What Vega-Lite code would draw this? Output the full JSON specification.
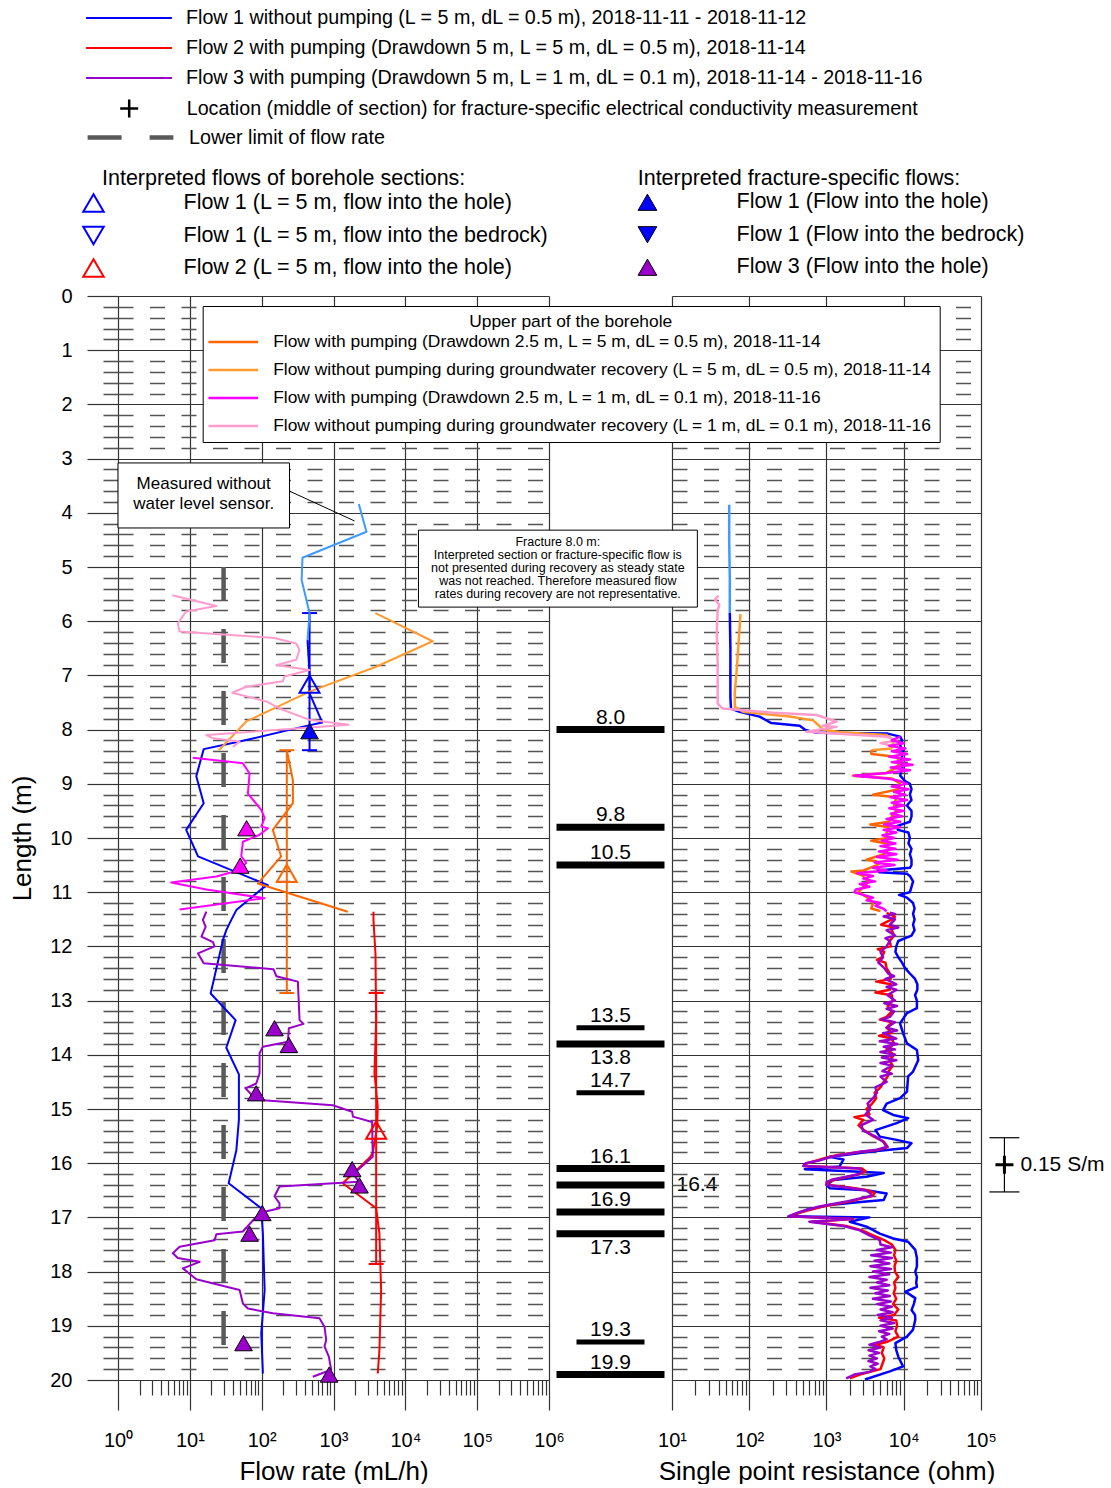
{
"$schema": "https://vega.github.io/schema/vega-lite/v6.json",
"background": "white",
"padding": {"left": 9, "top": 6, "right": 0, "bottom": 0},
"spacing": 0,
"bounds": "flush",
"datasets": {
"series": [
{"id":"F1","name":"Flow 1 without pumping (L = 5 m, dL = 0.5 m), 2018-11-11 - 2018-11-12"},
{"id":"F2","name":"Flow 2 with pumping (Drawdown 5 m, L = 5 m, dL = 0.5 m), 2018-11-14"},
{"id":"F3","name":"Flow 3 with pumping (Drawdown 5 m, L = 1 m, dL = 0.1 m), 2018-11-14 - 2018-11-16"},
{"id":"LOC","name":"Location (middle of section) for fracture-specific electrical conductivity measurement"},
{"id":"LL","name":"Lower limit of flow rate"},
{"id":"F1b","name":"Flow 1 measured without water level sensor"},
{"id":"U1","name":"Flow with pumping (Drawdown 2.5 m, L = 5 m, dL = 0.5 m), 2018-11-14"},
{"id":"U2","name":"Flow without pumping during groundwater recovery (L = 5 m, dL = 0.5 m), 2018-11-14"},
{"id":"U3","name":"Flow with pumping (Drawdown 2.5 m, L = 1 m, dL = 0.1 m), 2018-11-16"},
{"id":"U4","name":"Flow without pumping during groundwater recovery (L = 1 m, dL = 0.1 m), 2018-11-16"}
],
"flow": [
{"s":"F1b","d":3.84,"v":2250},{"s":"F1b","d":4.35,"v":2880},{"s":"F1b","d":4.83,"v":370},{"s":"F1b","d":5.24,"v":360},{"s":"F1b","d":5.85,"v":464},{"s":"F1b","d":6.35,"v":435},
{"s":"F1","d":6.35,"v":435},{"s":"F1","d":6.96,"v":464},{"s":"F1","d":7.33,"v":464},{"s":"F1","d":7.82,"v":674},{"s":"F1","d":7.87,"v":697},{"s":"F1","d":7.95,"v":367},{"s":"F1","d":8.22,"v":49.3},{"s":"F1","d":8.36,"v":15.6},{"s":"F1","d":8.86,"v":12.3},{"s":"F1","d":9.36,"v":15.6},{"s":"F1","d":9.85,"v":8.9},{"s":"F1","d":10.34,"v":13},{"s":"F1","d":10.87,"v":122},{"s":"F1","d":10.93,"v":102},{"s":"F1","d":11.33,"v":44.4},{"s":"F1","d":11.51,"v":37.8},{"s":"F1","d":11.7,"v":32.2},{"s":"F1","d":11.88,"v":28.9},{"s":"F1","d":12.87,"v":19.5},{"s":"F1","d":13.36,"v":43.4},{"s":"F1","d":13.87,"v":32.2},{"s":"F1","d":14.36,"v":48.2},{"s":"F1","d":15.2,"v":48.2},{"s":"F1","d":15.76,"v":44.4},{"s":"F1","d":16.37,"v":34.7},{"s":"F1","d":16.83,"v":98.7},{"s":"F1","d":17.3,"v":104},{"s":"F1","d":18.34,"v":110},{"s":"F1","d":19.14,"v":98.7},{"s":"F1","d":19.88,"v":104},
{"s":"F2","d":11.36,"v":3600},{"s":"F2","d":11.51,"v":3600},{"s":"F2","d":12.13,"v":3840},{"s":"F2","d":13.36,"v":3925},{"s":"F2","d":14.34,"v":3717},{"s":"F2","d":14.95,"v":4130},{"s":"F2","d":15.32,"v":4060},{"s":"F2","d":15.81,"v":3520},{"s":"F2","d":15.9,"v":3170},{"s":"F2","d":16.37,"v":1347},{"s":"F2","d":16.83,"v":3925},{"s":"F2","d":17.3,"v":4360},{"s":"F2","d":18.34,"v":4600},{"s":"F2","d":19.45,"v":4360},{"s":"F2","d":19.88,"v":4130},
{"s":"F3","d":11.36,"v":17},{"s":"F3","d":11.51,"v":15.2},{"s":"F3","d":11.64,"v":16.6},{"s":"F3","d":11.82,"v":14.5},{"s":"F3","d":11.92,"v":21},{"s":"F3","d":12.0,"v":22.1},{"s":"F3","d":12.13,"v":13},{"s":"F3","d":12.31,"v":15.6},{"s":"F3","d":12.42,"v":146},{"s":"F3","d":12.55,"v":160},{"s":"F3","d":12.65,"v":319},{"s":"F3","d":13.36,"v":337},{"s":"F3","d":13.43,"v":383},{"s":"F3","d":13.51,"v":239},{"s":"F3","d":13.76,"v":232},{"s":"F3","d":13.85,"v":104},{"s":"F3","d":13.97,"v":93.5},{"s":"F3","d":14.34,"v":93.5},{"s":"F3","d":14.53,"v":84},{"s":"F3","d":14.62,"v":59.7},{"s":"F3","d":14.83,"v":84},{"s":"F3","d":14.93,"v":977},{"s":"F3","d":15.05,"v":1820},{"s":"F3","d":15.14,"v":1862},{"s":"F3","d":15.24,"v":3450},{"s":"F3","d":15.88,"v":3520},{"s":"F3","d":16.1,"v":2300},{"s":"F3","d":16.19,"v":1862},{"s":"F3","d":16.34,"v":2250},{"s":"F3","d":16.43,"v":177},{"s":"F3","d":16.61,"v":151},{"s":"F3","d":16.74,"v":177},{"s":"F3","d":16.83,"v":177},{"s":"F3","d":16.92,"v":93.5},{"s":"F3","d":17.26,"v":54.8},{"s":"F3","d":17.31,"v":23.4},{"s":"F3","d":17.42,"v":22.1},{"s":"F3","d":17.54,"v":7.2},{"s":"F3","d":17.66,"v":5.8},{"s":"F3","d":17.75,"v":6.8},{"s":"F3","d":17.82,"v":13.7},{"s":"F3","d":17.94,"v":8.0},{"s":"F3","d":18.14,"v":12.3},{"s":"F3","d":18.34,"v":49.3},{"s":"F3","d":18.59,"v":54.8},{"s":"F3","d":18.68,"v":64.3},{"s":"F3","d":18.77,"v":143},{"s":"F3","d":18.86,"v":639},{"s":"F3","d":19.02,"v":750},{"s":"F3","d":19.26,"v":791},{"s":"F3","d":19.38,"v":750},{"s":"F3","d":19.57,"v":861},{"s":"F3","d":19.81,"v":929},{"s":"F3","d":19.94,"v":515},
{"s":"U2","d":5.85,"v":3840},{"s":"U2","d":6.37,"v":24000},{"s":"U2","d":6.84,"v":3925},{"s":"U2","d":7.3,"v":464},{"s":"U2","d":7.85,"v":61},{"s":"U2","d":8.38,"v":25.4},
{"s":"U1","d":8.38,"v":224},{"s":"U1","d":8.93,"v":272},{"s":"U1","d":9.36,"v":272},{"s":"U1","d":9.85,"v":143},{"s":"U1","d":10.34,"v":187},{"s":"U1","d":10.84,"v":88.5},{"s":"U1","d":11.36,"v":1580},
{"s":"U4","d":5.52,"v":5.7},{"s":"U4","d":5.72,"v":23.4},{"s":"U4","d":5.82,"v":8.9},{"s":"U4","d":6.04,"v":6.8},{"s":"U4","d":6.19,"v":7.2},{"s":"U4","d":6.31,"v":151},{"s":"U4","d":6.41,"v":303},{"s":"U4","d":6.53,"v":337},{"s":"U4","d":6.71,"v":303},{"s":"U4","d":6.81,"v":160},{"s":"U4","d":6.9,"v":464},{"s":"U4","d":7.02,"v":208},{"s":"U4","d":7.11,"v":197},{"s":"U4","d":7.21,"v":61},{"s":"U4","d":7.32,"v":39},{"s":"U4","d":7.48,"v":116},{"s":"U4","d":7.61,"v":177},{"s":"U4","d":7.82,"v":464},{"s":"U4","d":7.91,"v":1633},{"s":"U4","d":8.1,"v":17},{"s":"U4","d":8.16,"v":21},{"s":"U4","d":8.22,"v":49.3},{"s":"U4","d":8.32,"v":39.8},
{"s":"U3","d":8.52,"v":11},{"s":"U3","d":8.62,"v":54.8},{"s":"U3","d":8.81,"v":67.9},{"s":"U3","d":9.18,"v":64.3},{"s":"U3","d":9.48,"v":98.7},{"s":"U3","d":9.63,"v":110},{"s":"U3","d":9.79,"v":98.7},{"s":"U3","d":9.82,"v":122},{"s":"U3","d":9.94,"v":93.5},{"s":"U3","d":10.07,"v":54.8},{"s":"U3","d":10.34,"v":52},{"s":"U3","d":10.46,"v":61},{"s":"U3","d":10.59,"v":49.3},{"s":"U3","d":10.71,"v":23.4},{"s":"U3","d":10.82,"v":5.5},{"s":"U3","d":10.95,"v":17},{"s":"U3","d":11.11,"v":110},{"s":"U3","d":11.32,"v":7.2}
],
"limit": [{"s":"LL","v":29.5,"d":5.0,"d2":19.45}],
"bars": [{"s":"F1","v":464,"d":5.85,"d2":8.38},{"s":"U1","v":224,"d":8.38,"d2":12.86},{"s":"F2","v":3925,"d":12.86,"d2":17.86}],
"caps": [{"s":"F1","v":464,"d":5.85},{"s":"F1","v":464,"d":8.38},{"s":"U1","v":224,"d":8.38},{"s":"U1","v":224,"d":12.86},{"s":"F2","v":3925,"d":12.86},{"s":"F2","v":3925,"d":17.86}],
"sect": [
{"k":"Flow 1 (L = 5 m, flow into the hole)","v":464,"d":7.16},
{"k":"Flow 2 (L = 5 m, flow into the hole)","v":3925,"d":15.39},
{"k":"Upper part (L = 5 m, flow into the hole)","v":224,"d":10.65}
],
"frac": [
{"k":"Flow 1 (Flow into the hole)","v":464,"d":8.03},
{"k":"Flow 3 (Flow into the hole)","v":151,"d":13.51},
{"k":"Flow 3 (Flow into the hole)","v":239,"d":13.82},
{"k":"Flow 3 (Flow into the hole)","v":84,"d":14.71},
{"k":"Flow 3 (Flow into the hole)","v":1820,"d":16.11},
{"k":"Flow 3 (Flow into the hole)","v":2300,"d":16.41},
{"k":"Flow 3 (Flow into the hole)","v":102,"d":16.92},
{"k":"Flow 3 (Flow into the hole)","v":67.9,"d":17.3},
{"k":"Flow 3 (Flow into the hole)","v":55.9,"d":19.32},
{"k":"Flow 3 (Flow into the hole)","v":871,"d":19.9},
{"k":"Upper part (Flow into the hole)","v":61.6,"d":9.82},
{"k":"Upper part (Flow into the hole)","v":50.3,"d":10.51}
],
"note1box": [{"v":1,"v2":244,"d":3.08,"d2":4.28}],
"note1line": [{"v":244,"v2":1960,"d":3.6,"d2":4.15}],
"note1text": [{"v":15.6,"d":3.33,"text":"Measured without\nwater level sensor."}],
"fract": [
{"d":8.0,"type":"main"},{"d":9.8,"type":"main"},{"d":10.5,"type":"main"},{"d":13.5,"type":"minor"},{"d":13.8,"type":"main"},{"d":14.7,"type":"minor"},{"d":16.1,"type":"main"},{"d":16.4,"type":"main"},{"d":16.9,"type":"main"},{"d":17.3,"type":"main"},{"d":19.3,"type":"minor"},{"d":19.9,"type":"main"}
],
"note2box": [{"v":0.00522,"v2":21.3,"d":4.32,"d2":5.74}],
"note2text": [{"v":0.333,"d":4.42,"text":"Fracture 8.0 m:\nInterpreted section or fracture-specific flow is\nnot presented during recovery as steady state\nwas not reached. Therefore measured flow\nrates during recovery are not representative."}],
"sbar": [{"v":201000,"d":15.53,"d2":16.53}],
"sbarcaps": [{"v":201000,"d":15.53},{"v":201000,"d":16.53}],
"sbarmid": [{"s":"LOC","v":201000,"d":16.03,"text":"0.15 S/m"}],
"spr": [
{"s":"F1b","d":3.85,"v":55},{"s":"F1b","d":4.5,"v":55},{"s":"F1b","d":5.2,"v":56},{"s":"F1b","d":5.85,"v":56},
{"s":"F1","d":5.85,"v":56},{"s":"F1","d":6.5,"v":57},{"s":"F1","d":7.0,"v":57},{"s":"F1","d":7.4,"v":57},{"s":"F1","d":7.61,"v":58},{"s":"F1","d":7.67,"v":75},{"s":"F1","d":7.76,"v":136},{"s":"F1","d":7.88,"v":193},{"s":"F1","d":7.93,"v":450},{"s":"F1","d":8.0,"v":524},{"s":"F1","d":8.06,"v":741},{"s":"F1","d":8.07,"v":6000},{"s":"F1","d":8.13,"v":9000},{"s":"F1","d":8.2,"v":9500},{"s":"F1","d":8.3,"v":9000},{"s":"F1","d":8.4,"v":9800},{"s":"F1","d":8.5,"v":9500},{"s":"F1","d":8.6,"v":9200},{"s":"F1","d":8.7,"v":9600},{"s":"F1","d":8.85,"v":9000},{"s":"F1","d":8.95,"v":10400},{"s":"F1","d":9.0,"v":12000},{"s":"F1","d":9.1,"v":12600},{"s":"F1","d":9.2,"v":12000},{"s":"F1","d":9.3,"v":12600},{"s":"F1","d":9.4,"v":11000},{"s":"F1","d":9.5,"v":12600},{"s":"F1","d":9.6,"v":12600},{"s":"F1","d":9.7,"v":12000},{"s":"F1","d":9.78,"v":8100},{"s":"F1","d":9.85,"v":8400},{"s":"F1","d":9.9,"v":11500},{"s":"F1","d":10.0,"v":12000},{"s":"F1","d":10.1,"v":11500},{"s":"F1","d":10.2,"v":12600},{"s":"F1","d":10.3,"v":12000},{"s":"F1","d":10.4,"v":12600},{"s":"F1","d":10.5,"v":12600},{"s":"F1","d":10.55,"v":12000},{"s":"F1","d":10.6,"v":4600},{"s":"F1","d":10.63,"v":4800},{"s":"F1","d":10.66,"v":11000},{"s":"F1","d":10.7,"v":12000},{"s":"F1","d":10.8,"v":13200},{"s":"F1","d":10.9,"v":12600},{"s":"F1","d":11.0,"v":12000},{"s":"F1","d":11.05,"v":8700},{"s":"F1","d":11.1,"v":11000},{"s":"F1","d":11.2,"v":13200},{"s":"F1","d":11.3,"v":13800},{"s":"F1","d":11.4,"v":13200},{"s":"F1","d":11.5,"v":13800},{"s":"F1","d":11.6,"v":13200},{"s":"F1","d":11.7,"v":13800},{"s":"F1","d":11.8,"v":12600},{"s":"F1","d":11.9,"v":8500},{"s":"F1","d":12.0,"v":8000},{"s":"F1","d":12.1,"v":7800},{"s":"F1","d":12.2,"v":8500},{"s":"F1","d":12.3,"v":9500},{"s":"F1","d":12.4,"v":10400},{"s":"F1","d":12.5,"v":12000},{"s":"F1","d":12.6,"v":14000},{"s":"F1","d":12.7,"v":15000},{"s":"F1","d":12.8,"v":15000},{"s":"F1","d":12.9,"v":14000},{"s":"F1","d":13.0,"v":14800},{"s":"F1","d":13.14,"v":14800},{"s":"F1","d":13.23,"v":11000},{"s":"F1","d":13.42,"v":8950},{"s":"F1","d":13.6,"v":9800},{"s":"F1","d":13.79,"v":11000},{"s":"F1","d":13.91,"v":14800},{"s":"F1","d":14.1,"v":15400},{"s":"F1","d":14.31,"v":13200},{"s":"F1","d":14.4,"v":11400},{"s":"F1","d":14.68,"v":11000},{"s":"F1","d":14.8,"v":8950},{"s":"F1","d":14.9,"v":6000},{"s":"F1","d":15.02,"v":5400},{"s":"F1","d":15.11,"v":7300},{"s":"F1","d":15.17,"v":11400},{"s":"F1","d":15.26,"v":8100},{"s":"F1","d":15.39,"v":4300},{"s":"F1","d":15.51,"v":4900},{"s":"F1","d":15.57,"v":8100},{"s":"F1","d":15.63,"v":12600},{"s":"F1","d":15.72,"v":11000},{"s":"F1","d":15.79,"v":3600},{"s":"F1","d":15.85,"v":1730},{"s":"F1","d":15.88,"v":1100},{"s":"F1","d":15.93,"v":1660},{"s":"F1","d":16.06,"v":1480},{"s":"F1","d":16.1,"v":600},{"s":"F1","d":16.11,"v":524},{"s":"F1","d":16.16,"v":2700},{"s":"F1","d":16.18,"v":5500},{"s":"F1","d":16.25,"v":3300},{"s":"F1","d":16.31,"v":1230},{"s":"F1","d":16.4,"v":1000},{"s":"F1","d":16.46,"v":1100},{"s":"F1","d":16.5,"v":3300},{"s":"F1","d":16.56,"v":6000},{"s":"F1","d":16.68,"v":5500},{"s":"F1","d":16.71,"v":3000},{"s":"F1","d":16.77,"v":1100},{"s":"F1","d":16.86,"v":550},{"s":"F1","d":16.98,"v":330},{"s":"F1","d":17.0,"v":3600},{"s":"F1","d":17.08,"v":2000},{"s":"F1","d":17.17,"v":3300},{"s":"F1","d":17.3,"v":4900},{"s":"F1","d":17.39,"v":7300},{"s":"F1","d":17.45,"v":11400},{"s":"F1","d":17.6,"v":14100},{"s":"F1","d":17.75,"v":14800},{"s":"F1","d":17.91,"v":14800},{"s":"F1","d":18.0,"v":14100},{"s":"F1","d":18.1,"v":14800},{"s":"F1","d":18.2,"v":14500},{"s":"F1","d":18.28,"v":14800},{"s":"F1","d":18.37,"v":10500},{"s":"F1","d":18.49,"v":14100},{"s":"F1","d":18.6,"v":13500},{"s":"F1","d":18.71,"v":12600},{"s":"F1","d":18.8,"v":14000},{"s":"F1","d":18.89,"v":14100},{"s":"F1","d":19.07,"v":13200},{"s":"F1","d":19.2,"v":11000},{"s":"F1","d":19.32,"v":7800},{"s":"F1","d":19.45,"v":8000},{"s":"F1","d":19.57,"v":8500},{"s":"F1","d":19.75,"v":9800},{"s":"F1","d":19.84,"v":6600},{"s":"F1","d":19.99,"v":3150},
{"s":"F2","d":11.38,"v":6000},{"s":"F2","d":11.45,"v":7700},{"s":"F2","d":11.5,"v":7000},{"s":"F2","d":11.6,"v":5100},{"s":"F2","d":11.65,"v":7500},{"s":"F2","d":11.7,"v":7000},{"s":"F2","d":11.8,"v":7500},{"s":"F2","d":11.9,"v":6600},{"s":"F2","d":12.0,"v":6800},{"s":"F2","d":12.05,"v":4600},{"s":"F2","d":12.1,"v":5600},{"s":"F2","d":12.2,"v":5200},{"s":"F2","d":12.25,"v":4500},{"s":"F2","d":12.3,"v":5800},{"s":"F2","d":12.4,"v":6000},{"s":"F2","d":12.5,"v":6600},{"s":"F2","d":12.6,"v":6800},{"s":"F2","d":12.65,"v":4400},{"s":"F2","d":12.7,"v":6800},{"s":"F2","d":12.8,"v":6600},{"s":"F2","d":12.85,"v":4300},{"s":"F2","d":12.9,"v":7000},{"s":"F2","d":13.0,"v":7200},{"s":"F2","d":13.1,"v":6200},{"s":"F2","d":13.2,"v":7000},{"s":"F2","d":13.3,"v":6000},{"s":"F2","d":13.35,"v":4900},{"s":"F2","d":13.4,"v":7000},{"s":"F2","d":13.5,"v":6000},{"s":"F2","d":13.6,"v":7000},{"s":"F2","d":13.65,"v":4800},{"s":"F2","d":13.7,"v":7000},{"s":"F2","d":13.8,"v":7500},{"s":"F2","d":13.9,"v":6000},{"s":"F2","d":14.0,"v":7500},{"s":"F2","d":14.1,"v":6500},{"s":"F2","d":14.2,"v":7200},{"s":"F2","d":14.3,"v":6400},{"s":"F2","d":14.4,"v":6200},{"s":"F2","d":14.5,"v":5500},{"s":"F2","d":14.6,"v":5000},{"s":"F2","d":14.7,"v":4200},{"s":"F2","d":14.8,"v":4400},{"s":"F2","d":14.9,"v":3900},{"s":"F2","d":15.0,"v":3300},{"s":"F2","d":15.1,"v":3600},{"s":"F2","d":15.15,"v":2300},{"s":"F2","d":15.2,"v":3000},{"s":"F2","d":15.3,"v":2600},{"s":"F2","d":15.4,"v":3100},{"s":"F2","d":15.5,"v":4000},{"s":"F2","d":15.6,"v":5500},{"s":"F2","d":15.7,"v":6200},{"s":"F2","d":15.75,"v":4800},{"s":"F2","d":15.8,"v":2500},{"s":"F2","d":15.85,"v":1400},{"s":"F2","d":15.9,"v":1000},{"s":"F2","d":16.0,"v":560},{"s":"F2","d":16.05,"v":520},{"s":"F2","d":16.1,"v":2900},{"s":"F2","d":16.15,"v":3200},{"s":"F2","d":16.2,"v":2700},{"s":"F2","d":16.25,"v":1900},{"s":"F2","d":16.3,"v":1300},{"s":"F2","d":16.35,"v":1050},{"s":"F2","d":16.4,"v":1050},{"s":"F2","d":16.45,"v":2000},{"s":"F2","d":16.5,"v":3400},{"s":"F2","d":16.55,"v":4200},{"s":"F2","d":16.6,"v":4000},{"s":"F2","d":16.7,"v":2100},{"s":"F2","d":16.8,"v":900},{"s":"F2","d":16.9,"v":480},{"s":"F2","d":16.98,"v":330},{"s":"F2","d":17.03,"v":2200},{"s":"F2","d":17.08,"v":650},{"s":"F2","d":17.16,"v":1800},{"s":"F2","d":17.24,"v":2900},{"s":"F2","d":17.33,"v":4000},{"s":"F2","d":17.42,"v":5600},{"s":"F2","d":17.5,"v":7000},{"s":"F2","d":17.6,"v":7800},{"s":"F2","d":17.7,"v":7500},{"s":"F2","d":17.8,"v":8000},{"s":"F2","d":17.9,"v":7600},{"s":"F2","d":18.0,"v":7700},{"s":"F2","d":18.1,"v":8500},{"s":"F2","d":18.2,"v":7500},{"s":"F2","d":18.3,"v":7800},{"s":"F2","d":18.4,"v":7400},{"s":"F2","d":18.5,"v":8000},{"s":"F2","d":18.6,"v":7300},{"s":"F2","d":18.7,"v":8500},{"s":"F2","d":18.8,"v":7500},{"s":"F2","d":18.85,"v":4800},{"s":"F2","d":18.9,"v":8000},{"s":"F2","d":19.0,"v":8200},{"s":"F2","d":19.1,"v":7800},{"s":"F2","d":19.2,"v":8500},{"s":"F2","d":19.3,"v":6000},{"s":"F2","d":19.35,"v":4300},{"s":"F2","d":19.4,"v":5500},{"s":"F2","d":19.5,"v":5200},{"s":"F2","d":19.6,"v":5600},{"s":"F2","d":19.7,"v":5300},{"s":"F2","d":19.8,"v":5000},{"s":"F2","d":19.9,"v":2700},{"s":"F2","d":19.97,"v":2000},
{"s":"F3","d":11.38,"v":6600},{"s":"F3","d":11.4,"v":7700},{"s":"F3","d":11.45,"v":5500},{"s":"F3","d":11.5,"v":7700},{"s":"F3","d":11.6,"v":6600},{"s":"F3","d":11.65,"v":8500},{"s":"F3","d":11.7,"v":6000},{"s":"F3","d":11.8,"v":7700},{"s":"F3","d":11.85,"v":5800},{"s":"F3","d":11.9,"v":6600},{"s":"F3","d":12.0,"v":6000},{"s":"F3","d":12.1,"v":5000},{"s":"F3","d":12.2,"v":5400},{"s":"F3","d":12.3,"v":4700},{"s":"F3","d":12.4,"v":5600},{"s":"F3","d":12.5,"v":6300},{"s":"F3","d":12.55,"v":7500},{"s":"F3","d":12.6,"v":5800},{"s":"F3","d":12.7,"v":8000},{"s":"F3","d":12.75,"v":6000},{"s":"F3","d":12.8,"v":8000},{"s":"F3","d":12.9,"v":6200},{"s":"F3","d":13.0,"v":7700},{"s":"F3","d":13.05,"v":5600},{"s":"F3","d":13.1,"v":8200},{"s":"F3","d":13.15,"v":6000},{"s":"F3","d":13.2,"v":7500},{"s":"F3","d":13.3,"v":6600},{"s":"F3","d":13.35,"v":5200},{"s":"F3","d":13.4,"v":7700},{"s":"F3","d":13.5,"v":6000},{"s":"F3","d":13.55,"v":8200},{"s":"F3","d":13.6,"v":5400},{"s":"F3","d":13.7,"v":8000},{"s":"F3","d":13.75,"v":4900},{"s":"F3","d":13.8,"v":8200},{"s":"F3","d":13.85,"v":5500},{"s":"F3","d":13.9,"v":7700},{"s":"F3","d":13.95,"v":5000},{"s":"F3","d":14.0,"v":7700},{"s":"F3","d":14.05,"v":5200},{"s":"F3","d":14.1,"v":8000},{"s":"F3","d":14.15,"v":5000},{"s":"F3","d":14.2,"v":7000},{"s":"F3","d":14.3,"v":5300},{"s":"F3","d":14.35,"v":7000},{"s":"F3","d":14.4,"v":5000},{"s":"F3","d":14.5,"v":6000},{"s":"F3","d":14.6,"v":4300},{"s":"F3","d":14.7,"v":4500},{"s":"F3","d":14.8,"v":4000},{"s":"F3","d":14.9,"v":3400},{"s":"F3","d":15.0,"v":3700},{"s":"F3","d":15.1,"v":3200},{"s":"F3","d":15.2,"v":4000},{"s":"F3","d":15.3,"v":2800},{"s":"F3","d":15.4,"v":3000},{"s":"F3","d":15.5,"v":4200},{"s":"F3","d":15.6,"v":5400},{"s":"F3","d":15.7,"v":6000},{"s":"F3","d":15.75,"v":4500},{"s":"F3","d":15.8,"v":2400},{"s":"F3","d":15.85,"v":1500},{"s":"F3","d":15.9,"v":1050},{"s":"F3","d":15.95,"v":800},{"s":"F3","d":16.0,"v":540},{"s":"F3","d":16.05,"v":500},{"s":"F3","d":16.1,"v":2700},{"s":"F3","d":16.15,"v":2900},{"s":"F3","d":16.2,"v":2700},{"s":"F3","d":16.25,"v":1800},{"s":"F3","d":16.3,"v":1200},{"s":"F3","d":16.35,"v":1000},{"s":"F3","d":16.4,"v":1000},{"s":"F3","d":16.45,"v":1800},{"s":"F3","d":16.5,"v":3200},{"s":"F3","d":16.55,"v":3650},{"s":"F3","d":16.6,"v":3900},{"s":"F3","d":16.7,"v":1900},{"s":"F3","d":16.8,"v":810},{"s":"F3","d":16.9,"v":450},{"s":"F3","d":16.98,"v":320},{"s":"F3","d":17.03,"v":2100},{"s":"F3","d":17.08,"v":600},{"s":"F3","d":17.16,"v":1660},{"s":"F3","d":17.24,"v":2700},{"s":"F3","d":17.33,"v":3600},{"s":"F3","d":17.42,"v":4900},{"s":"F3","d":17.5,"v":5000},{"s":"F3","d":17.55,"v":7000},{"s":"F3","d":17.6,"v":4500},{"s":"F3","d":17.65,"v":6800},{"s":"F3","d":17.7,"v":3800},{"s":"F3","d":17.75,"v":7000},{"s":"F3","d":17.8,"v":4200},{"s":"F3","d":17.85,"v":6500},{"s":"F3","d":17.9,"v":3700},{"s":"F3","d":17.95,"v":6800},{"s":"F3","d":18.0,"v":4000},{"s":"F3","d":18.05,"v":6500},{"s":"F3","d":18.1,"v":3600},{"s":"F3","d":18.15,"v":6000},{"s":"F3","d":18.2,"v":4500},{"s":"F3","d":18.25,"v":6500},{"s":"F3","d":18.3,"v":3700},{"s":"F3","d":18.35,"v":6200},{"s":"F3","d":18.4,"v":4300},{"s":"F3","d":18.45,"v":6600},{"s":"F3","d":18.5,"v":4000},{"s":"F3","d":18.55,"v":6800},{"s":"F3","d":18.6,"v":4500},{"s":"F3","d":18.65,"v":7000},{"s":"F3","d":18.7,"v":5000},{"s":"F3","d":18.75,"v":7200},{"s":"F3","d":18.8,"v":4600},{"s":"F3","d":18.85,"v":7000},{"s":"F3","d":18.9,"v":5000},{"s":"F3","d":18.95,"v":7500},{"s":"F3","d":19.0,"v":5000},{"s":"F3","d":19.05,"v":7200},{"s":"F3","d":19.1,"v":4800},{"s":"F3","d":19.15,"v":6500},{"s":"F3","d":19.2,"v":5200},{"s":"F3","d":19.25,"v":6000},{"s":"F3","d":19.3,"v":4800},{"s":"F3","d":19.35,"v":3600},{"s":"F3","d":19.4,"v":5000},{"s":"F3","d":19.45,"v":3500},{"s":"F3","d":19.5,"v":4800},{"s":"F3","d":19.55,"v":3600},{"s":"F3","d":19.6,"v":4500},{"s":"F3","d":19.65,"v":3500},{"s":"F3","d":19.7,"v":4600},{"s":"F3","d":19.75,"v":3700},{"s":"F3","d":19.8,"v":4300},{"s":"F3","d":19.85,"v":3600},{"s":"F3","d":19.9,"v":2300},{"s":"F3","d":19.97,"v":1800},
{"s":"U2","d":5.87,"v":77},{"s":"U2","d":6.5,"v":72},{"s":"U2","d":7.0,"v":68},{"s":"U2","d":7.3,"v":65},{"s":"U2","d":7.58,"v":65},{"s":"U2","d":7.67,"v":83},{"s":"U2","d":7.76,"v":333},{"s":"U2","d":7.83,"v":670},{"s":"U2","d":7.91,"v":778},{"s":"U2","d":8.0,"v":900},{"s":"U2","d":8.05,"v":1500},{"s":"U2","d":8.1,"v":6000},{"s":"U2","d":8.2,"v":7500},{"s":"U2","d":8.3,"v":7000},{"s":"U2","d":8.35,"v":6900},{"s":"U2","d":8.38,"v":3800},
{"s":"U1","d":8.38,"v":3800},{"s":"U1","d":8.45,"v":3800},{"s":"U1","d":8.5,"v":8000},{"s":"U1","d":8.6,"v":9000},{"s":"U1","d":8.7,"v":8000},{"s":"U1","d":8.8,"v":6000},{"s":"U1","d":8.85,"v":2200},{"s":"U1","d":8.9,"v":7000},{"s":"U1","d":9.0,"v":9000},{"s":"U1","d":9.1,"v":8500},{"s":"U1","d":9.2,"v":4000},{"s":"U1","d":9.25,"v":8000},{"s":"U1","d":9.4,"v":7500},{"s":"U1","d":9.5,"v":8000},{"s":"U1","d":9.6,"v":7000},{"s":"U1","d":9.7,"v":6500},{"s":"U1","d":9.75,"v":3700},{"s":"U1","d":9.8,"v":6500},{"s":"U1","d":9.9,"v":6000},{"s":"U1","d":10.0,"v":6000},{"s":"U1","d":10.05,"v":3800},{"s":"U1","d":10.1,"v":6000},{"s":"U1","d":10.2,"v":6500},{"s":"U1","d":10.3,"v":5500},{"s":"U1","d":10.4,"v":3300},{"s":"U1","d":10.45,"v":5000},{"s":"U1","d":10.5,"v":4500},{"s":"U1","d":10.6,"v":3000},{"s":"U1","d":10.62,"v":2100},{"s":"U1","d":10.7,"v":3000},{"s":"U1","d":10.75,"v":3100},{"s":"U1","d":10.8,"v":3600},{"s":"U1","d":10.9,"v":3000},{"s":"U1","d":11.0,"v":2600},{"s":"U1","d":11.1,"v":3400},{"s":"U1","d":11.2,"v":4000},{"s":"U1","d":11.3,"v":3800},{"s":"U1","d":11.35,"v":5000},
{"s":"U4","d":5.53,"v":40},{"s":"U4","d":5.6,"v":36},{"s":"U4","d":5.7,"v":41},{"s":"U4","d":5.8,"v":39},{"s":"U4","d":6.2,"v":38},{"s":"U4","d":6.8,"v":39},{"s":"U4","d":7.2,"v":39},{"s":"U4","d":7.52,"v":39},{"s":"U4","d":7.61,"v":45},{"s":"U4","d":7.69,"v":203},{"s":"U4","d":7.73,"v":741},{"s":"U4","d":7.85,"v":1350},{"s":"U4","d":7.93,"v":900},{"s":"U4","d":7.95,"v":1350},{"s":"U4","d":8.04,"v":550},{"s":"U4","d":8.13,"v":6000},{"s":"U4","d":8.2,"v":8000},{"s":"U4","d":8.25,"v":5000},{"s":"U4","d":8.3,"v":7000},
{"s":"U3","d":8.13,"v":9000},{"s":"U3","d":8.2,"v":7000},{"s":"U3","d":8.25,"v":10000},{"s":"U3","d":8.3,"v":6500},{"s":"U3","d":8.35,"v":10500},{"s":"U3","d":8.4,"v":7000},{"s":"U3","d":8.45,"v":11000},{"s":"U3","d":8.5,"v":6500},{"s":"U3","d":8.55,"v":12000},{"s":"U3","d":8.6,"v":7000},{"s":"U3","d":8.65,"v":13000},{"s":"U3","d":8.7,"v":6800},{"s":"U3","d":8.75,"v":12000},{"s":"U3","d":8.8,"v":6000},{"s":"U3","d":8.85,"v":2300},{"s":"U3","d":8.9,"v":6000},{"s":"U3","d":8.95,"v":9000},{"s":"U3","d":9.0,"v":11000},{"s":"U3","d":9.05,"v":7000},{"s":"U3","d":9.1,"v":11500},{"s":"U3","d":9.15,"v":7500},{"s":"U3","d":9.2,"v":10500},{"s":"U3","d":9.25,"v":6800},{"s":"U3","d":9.3,"v":11000},{"s":"U3","d":9.35,"v":7000},{"s":"U3","d":9.4,"v":10000},{"s":"U3","d":9.45,"v":6500},{"s":"U3","d":9.5,"v":10000},{"s":"U3","d":9.55,"v":6800},{"s":"U3","d":9.6,"v":9500},{"s":"U3","d":9.65,"v":6000},{"s":"U3","d":9.7,"v":9000},{"s":"U3","d":9.75,"v":5600},{"s":"U3","d":9.8,"v":9000},{"s":"U3","d":9.85,"v":5500},{"s":"U3","d":9.9,"v":8000},{"s":"U3","d":9.95,"v":5300},{"s":"U3","d":10.0,"v":7500},{"s":"U3","d":10.05,"v":5200},{"s":"U3","d":10.1,"v":7800},{"s":"U3","d":10.15,"v":5000},{"s":"U3","d":10.2,"v":7800},{"s":"U3","d":10.25,"v":4800},{"s":"U3","d":10.3,"v":8000},{"s":"U3","d":10.35,"v":4500},{"s":"U3","d":10.4,"v":8300},{"s":"U3","d":10.45,"v":4200},{"s":"U3","d":10.5,"v":7600},{"s":"U3","d":10.55,"v":4000},{"s":"U3","d":10.6,"v":6000},{"s":"U3","d":10.65,"v":2500},{"s":"U3","d":10.7,"v":4000},{"s":"U3","d":10.75,"v":3000},{"s":"U3","d":10.8,"v":4200},{"s":"U3","d":10.85,"v":2700},{"s":"U3","d":10.9,"v":3600},{"s":"U3","d":10.95,"v":2400},{"s":"U3","d":11.0,"v":2300},{"s":"U3","d":11.05,"v":3000},{"s":"U3","d":11.1,"v":4000},{"s":"U3","d":11.15,"v":3300},{"s":"U3","d":11.2,"v":5000},{"s":"U3","d":11.25,"v":4300},{"s":"U3","d":11.3,"v":5400},{"s":"U3","d":11.35,"v":6000}
]
},
"hconcat": [
{
"width": 431, "height": 1084,
"encoding": {
"x": {"field": "v", "type": "quantitative", "scale": {"type": "log", "domain": [1, 1000000], "nice": false},
 "axis": {"values": [1,2,3,4,5,6,7,8,9,10,20,30,40,50,60,70,80,90,100,200,300,400,500,600,700,800,900,1000,2000,3000,4000,5000,6000,7000,8000,9000,10000,20000,30000,40000,50000,60000,70000,80000,90000,100000,200000,300000,400000,500000,600000,700000,800000,900000,1000000],
  "title": "Flow rate (mL/h)", "titleFontSize": 26, "titlePadding": 8,
  "labelFontSize": 20, "labelPadding": 20, "labelOverlap": false, "labelFlush": false, "labelBound": false,
  "labelExpr": "abs(log(datum.value)/LN10 - round(log(datum.value)/LN10)) < 0.001 ? '10' + ['⁰','¹','²','³','⁴','⁵','⁶'][round(log(datum.value)/LN10)] : ''",
  "tickSize": {"condition": {"test": "abs(log(datum.value)/LN10 - round(log(datum.value)/LN10)) < 0.001", "value": 30}, "value": 15},
  "tickColor": "#333", "tickWidth": 1.2,
  "grid": true, "gridColor": "#333", "gridWidth": 1.2,
  "gridOpacity": {"condition": {"test": "abs(log(datum.value)/LN10 - round(log(datum.value)/LN10)) < 0.001", "value": 1}, "value": 0},
  "domain": false}},
"y": {"field": "d", "type": "quantitative", "scale": {"domain": [0, 20], "reverse": true, "nice": false, "zero": false},
 "axis": {"values": [0,0.2,0.4,0.6,0.8,1,1.2,1.4,1.6,1.8,2,2.2,2.4,2.6,2.8,3,3.2,3.4,3.6,3.8,4,4.2,4.4,4.6,4.8,5,5.2,5.4,5.6,5.8,6,6.2,6.4,6.6,6.8,7,7.2,7.4,7.6,7.8,8,8.2,8.4,8.6,8.8,9,9.2,9.4,9.6,9.8,10,10.2,10.4,10.6,10.8,11,11.2,11.4,11.6,11.8,12,12.2,12.4,12.6,12.8,13,13.2,13.4,13.6,13.8,14,14.2,14.4,14.6,14.8,15,15.2,15.4,15.6,15.8,16,16.2,16.4,16.6,16.8,17,17.2,17.4,17.6,17.8,18,18.2,18.4,18.6,18.8,19,19.2,19.4,19.6,19.8,20],
  "title": "Length (m)", "titleFontSize": 26, "titlePadding": 14,
  "labelFontSize": 20, "labelPadding": 15, "labelOverlap": false, "labelFlush": false, "labelBound": false,
  "labelExpr": "abs(datum.value - round(datum.value)) < 0.001 ? '' + round(datum.value) : ''",
  "tickSize": {"condition": {"test": "abs(datum.value - round(datum.value)) < 0.001", "value": 31}, "value": 15},
  "tickColor": {"condition": {"test": "abs(datum.value - round(datum.value)) < 0.001", "value": "#333"}, "value": "#555"},
  "tickWidth": {"condition": {"test": "abs(datum.value - round(datum.value)) < 0.001", "value": 1.2}, "value": 1.6},
  "grid": true,
  "gridColor": {"condition": {"test": "abs(datum.value - round(datum.value)) < 0.001", "value": "#333"}, "value": "#555"},
  "gridWidth": {"condition": {"test": "abs(datum.value - round(datum.value)) < 0.001", "value": 1.2}, "value": 1.6},
  "gridDash": {"condition": {"test": "abs(datum.value - round(datum.value)) < 0.001", "value": []}, "value": [15, 16.5]},
  "domain": false}}
},
"layer": [
{"data": {"name": "limit"}, "transform": [{"lookup": "s", "from": {"data": {"name": "series"}, "key": "id", "fields": ["name"]}}],
 "mark": {"type": "rule", "strokeWidth": 4.5, "color": "#5a5a5a"},
 "encoding": {"y2": {"field": "d2"},
  "strokeDash": {"field": "name", "type": "nominal", "scale": {"domain": ["Lower limit of flow rate"], "range": [[34, 28]]},
   "legend": {"title": null, "orient": "none", "legendX": -32, "legendY": -172, "padding": 0, "symbolType": "M-3.9,0L3.9,0", "symbolSize": 484, "symbolStrokeWidth": 4.5, "symbolStrokeColor": "#5a5a5a", "symbolOffset": 31, "labelOffset": 45, "labelFontSize": 19.7, "labelLimit": 1000}}}},
{
"encoding": {"color": {"field": "name", "type": "nominal",
 "scale": {"domain": ["Flow 1 without pumping (L = 5 m, dL = 0.5 m), 2018-11-11 - 2018-11-12","Flow 2 with pumping (Drawdown 5 m, L = 5 m, dL = 0.5 m), 2018-11-14","Flow 3 with pumping (Drawdown 5 m, L = 1 m, dL = 0.1 m), 2018-11-14 - 2018-11-16","Flow 1 measured without water level sensor","Flow with pumping (Drawdown 2.5 m, L = 5 m, dL = 0.5 m), 2018-11-14","Flow without pumping during groundwater recovery (L = 5 m, dL = 0.5 m), 2018-11-14","Flow with pumping (Drawdown 2.5 m, L = 1 m, dL = 0.1 m), 2018-11-16","Flow without pumping during groundwater recovery (L = 1 m, dL = 0.1 m), 2018-11-16"],
  "range": ["#0000ff","#ff0000","#9900cc","#3d9bff","#ff6600","#ff9a2e","#ff00ff","#ff9ccd"]},
 "legend": {"values": ["Flow 1 without pumping (L = 5 m, dL = 0.5 m), 2018-11-11 - 2018-11-12","Flow 2 with pumping (Drawdown 5 m, L = 5 m, dL = 0.5 m), 2018-11-14","Flow 3 with pumping (Drawdown 5 m, L = 1 m, dL = 0.1 m), 2018-11-14 - 2018-11-16"],
  "title": null, "orient": "none", "legendX": -32, "legendY": -290, "padding": 0,
  "symbolType": "M-3.9,0L3.9,0", "symbolSize": 484, "symbolStrokeWidth": 2, "symbolOffset": 31,
  "labelOffset": 45, "labelFontSize": 19.7, "labelLimit": 1000, "rowPadding": 8}}},
"layer": [
 {"data": {"name": "bars"}, "transform": [{"lookup": "s", "from": {"data": {"name": "series"}, "key": "id", "fields": ["name"]}}], "mark": {"type": "rule", "strokeWidth": 2}, "encoding": {"y2": {"field": "d2"}}},
 {"data": {"name": "caps"}, "transform": [{"lookup": "s", "from": {"data": {"name": "series"}, "key": "id", "fields": ["name"]}}], "mark": {"type": "tick", "orient": "horizontal", "size": 15, "thickness": 2, "opacity": 1}},
 {"data": {"name": "flow"}, "transform": [{"lookup": "s", "from": {"data": {"name": "series"}, "key": "id", "fields": ["name"]}}], "mark": {"type": "line", "strokeWidth": 2, "strokeJoin": "round"}, "encoding": {"order": {"field": "d", "type": "quantitative"}}}
]
},
{
"data": {"name": "sect"},
"mark": {"type": "point", "filled": false, "strokeWidth": 2, "size": 400, "opacity": 1},
"encoding": {
 "color": {"field": "k", "type": "nominal", "scale": {"domain": ["Flow 1 (L = 5 m, flow into the hole)","Flow 1 (L = 5 m, flow into the bedrock)","Flow 2 (L = 5 m, flow into the hole)","Upper part (L = 5 m, flow into the hole)"], "range": ["#0000ff","#0000ff","#ff0000","#ff6600"]},
  "legend": {"values": ["Flow 1 (L = 5 m, flow into the hole)","Flow 1 (L = 5 m, flow into the bedrock)","Flow 2 (L = 5 m, flow into the hole)"], "title": "Interpreted flows of borehole sections:", "orient": "none", "legendX": -16, "legendY": -128, "padding": 0, "titleFontSize": 21.5, "titlePadding": 2, "titleLimit": 1000, "labelFontSize": 21.5, "labelLimit": 1000, "symbolSize": 420, "symbolStrokeWidth": 2, "symbolOffset": -20, "labelOffset": 78.5, "rowPadding": 5.5}},
 "shape": {"field": "k", "type": "nominal", "scale": {"domain": ["Flow 1 (L = 5 m, flow into the hole)","Flow 1 (L = 5 m, flow into the bedrock)","Flow 2 (L = 5 m, flow into the hole)","Upper part (L = 5 m, flow into the hole)"], "range": ["triangle-up","triangle-down","triangle-up","triangle-up"]},
  "legend": {"values": ["Flow 1 (L = 5 m, flow into the hole)","Flow 1 (L = 5 m, flow into the bedrock)","Flow 2 (L = 5 m, flow into the hole)"], "title": "Interpreted flows of borehole sections:", "orient": "none", "legendX": -16, "legendY": -128, "padding": 0, "titleFontSize": 21.5, "titlePadding": 2, "titleLimit": 1000, "labelFontSize": 21.5, "labelLimit": 1000, "symbolSize": 420, "symbolStrokeWidth": 2, "symbolOffset": -20, "labelOffset": 78.5, "rowPadding": 5.5}}
}
},
{
"data": {"name": "frac"},
"mark": {"type": "point", "filled": true, "stroke": "black", "strokeWidth": 1, "size": 310, "opacity": 1},
"encoding": {
 "color": {"field": "k", "type": "nominal", "scale": {"domain": ["Flow 1 (Flow into the hole)","Flow 1 (Flow into the bedrock)","Flow 3 (Flow into the hole)","Upper part (Flow into the hole)"], "range": ["#0000ff","#0000ff","#9900cc","#ff00ff"]},
  "legend": {"values": ["Flow 1 (Flow into the hole)","Flow 1 (Flow into the bedrock)","Flow 3 (Flow into the hole)"], "title": "Interpreted fracture-specific flows:", "orient": "none", "legendX": 519.7, "legendY": -128, "padding": 0, "titleFontSize": 21.5, "titlePadding": 2, "titleLimit": 1000, "labelFontSize": 21.5, "labelLimit": 1000, "symbolSize": 350, "symbolStrokeWidth": 1, "symbolStrokeColor": "black", "symbolOffset": -1, "labelOffset": 78.3, "rowPadding": 9.5}},
 "shape": {"field": "k", "type": "nominal", "scale": {"domain": ["Flow 1 (Flow into the hole)","Flow 1 (Flow into the bedrock)","Flow 3 (Flow into the hole)","Upper part (Flow into the hole)"], "range": ["triangle-up","triangle-down","triangle-up","triangle-up"]},
  "legend": {"values": ["Flow 1 (Flow into the hole)","Flow 1 (Flow into the bedrock)","Flow 3 (Flow into the hole)"], "title": "Interpreted fracture-specific flows:", "orient": "none", "legendX": 519.7, "legendY": -128, "padding": 0, "titleFontSize": 21.5, "titlePadding": 2, "titleLimit": 1000, "labelFontSize": 21.5, "labelLimit": 1000, "symbolSize": 350, "symbolStrokeWidth": 1, "symbolStrokeColor": "black", "symbolOffset": -1, "labelOffset": 78.3, "rowPadding": 9.5}}
}
},
{"data": {"name": "note1box"}, "mark": {"type": "rect", "fill": "white", "stroke": "black", "strokeWidth": 1}, "encoding": {"x2": {"field": "v2"}, "y2": {"field": "d2"}}},
{"data": {"name": "note1line"}, "mark": {"type": "rule", "color": "black", "strokeWidth": 1}, "encoding": {"x2": {"field": "v2"}, "y2": {"field": "d2"}}},
{"data": {"name": "note1text"}, "mark": {"type": "text", "align": "center", "baseline": "top", "fontSize": 17, "lineHeight": 20, "lineBreak": "\n", "color": "black"}, "encoding": {"text": {"field": "text"}}}
],
"resolve": {"scale": {"color": "independent", "shape": "independent"}}
},
{
"width": 123, "height": 1084,
"data": {"name": "fract"},
"encoding": {"y": {"field": "d", "type": "quantitative", "scale": {"domain": [0, 20], "reverse": true, "nice": false, "zero": false}, "axis": null}},
"layer": [
 {"transform": [{"filter": {"field": "type", "equal": "main"}}], "mark": {"type": "tick", "orient": "horizontal", "size": 108, "thickness": 7, "color": "black", "opacity": 1}},
 {"transform": [{"filter": {"field": "type", "equal": "minor"}}], "mark": {"type": "tick", "orient": "horizontal", "size": 68, "thickness": 5, "color": "black", "opacity": 1}},
 {"transform": [{"filter": {"field": "d", "oneOf": [8.0, 9.8, 10.5, 13.5, 14.7, 16.1, 16.9, 19.3, 19.9]}}], "mark": {"type": "text", "baseline": "middle", "align": "center", "dy": -12, "fontSize": 21, "color": "black"}, "encoding": {"text": {"field": "d", "type": "quantitative", "format": ".1f"}}},
 {"transform": [{"filter": {"field": "d", "oneOf": [13.8, 17.3]}}], "mark": {"type": "text", "baseline": "middle", "align": "center", "dy": 14, "fontSize": 21, "color": "black"}, "encoding": {"text": {"field": "d", "type": "quantitative", "format": ".1f"}}},
 {"transform": [{"filter": {"field": "d", "oneOf": [16.4]}}], "mark": {"type": "text", "baseline": "middle", "align": "left", "dx": 66, "fontSize": 21, "color": "black"}, "encoding": {"text": {"field": "d", "type": "quantitative", "format": ".1f"}}}
]
},
{
"width": 309, "height": 1084,
"encoding": {
"x": {"field": "v", "type": "quantitative", "scale": {"type": "log", "domain": [10, 100000], "nice": false},
 "axis": {"values": [10,20,30,40,50,60,70,80,90,100,200,300,400,500,600,700,800,900,1000,2000,3000,4000,5000,6000,7000,8000,9000,10000,20000,30000,40000,50000,60000,70000,80000,90000,100000],
  "title": "Single point resistance (ohm)", "titleFontSize": 26, "titlePadding": 8,
  "labelFontSize": 20, "labelPadding": 20, "labelOverlap": false, "labelFlush": false, "labelBound": false,
  "labelExpr": "abs(log(datum.value)/LN10 - round(log(datum.value)/LN10)) < 0.001 ? '10' + ['⁰','¹','²','³','⁴','⁵','⁶'][round(log(datum.value)/LN10)] : ''",
  "tickSize": {"condition": {"test": "abs(log(datum.value)/LN10 - round(log(datum.value)/LN10)) < 0.001", "value": 30}, "value": 15},
  "tickColor": "#333", "tickWidth": 1.2,
  "grid": true, "gridColor": "#333", "gridWidth": 1.2,
  "gridOpacity": {"condition": {"test": "abs(log(datum.value)/LN10 - round(log(datum.value)/LN10)) < 0.001", "value": 1}, "value": 0},
  "domain": false}},
"y": {"field": "d", "type": "quantitative", "scale": {"domain": [0, 20], "reverse": true, "nice": false, "zero": false},
 "axis": {"values": [0,0.2,0.4,0.6,0.8,1,1.2,1.4,1.6,1.8,2,2.2,2.4,2.6,2.8,3,3.2,3.4,3.6,3.8,4,4.2,4.4,4.6,4.8,5,5.2,5.4,5.6,5.8,6,6.2,6.4,6.6,6.8,7,7.2,7.4,7.6,7.8,8,8.2,8.4,8.6,8.8,9,9.2,9.4,9.6,9.8,10,10.2,10.4,10.6,10.8,11,11.2,11.4,11.6,11.8,12,12.2,12.4,12.6,12.8,13,13.2,13.4,13.6,13.8,14,14.2,14.4,14.6,14.8,15,15.2,15.4,15.6,15.8,16,16.2,16.4,16.6,16.8,17,17.2,17.4,17.6,17.8,18,18.2,18.4,18.6,18.8,19,19.2,19.4,19.6,19.8,20],
  "title": null, "labels": false, "ticks": false, "domain": false,
  "grid": true,
  "gridColor": {"condition": {"test": "abs(datum.value - round(datum.value)) < 0.001", "value": "#333"}, "value": "#555"},
  "gridWidth": {"condition": {"test": "abs(datum.value - round(datum.value)) < 0.001", "value": 1.2}, "value": 1.6},
  "gridDash": {"condition": {"test": "abs(datum.value - round(datum.value)) < 0.001", "value": []}, "value": [15, 16.5]}}}
},
"layer": [
{"data": {"name": "spr"}, "transform": [{"lookup": "s", "from": {"data": {"name": "series"}, "key": "id", "fields": ["name"]}}],
 "mark": {"type": "line", "strokeWidth": 2.5, "strokeJoin": "round"},
 "encoding": {"order": {"field": "d", "type": "quantitative"},
  "color": {"field": "name", "type": "nominal",
   "scale": {"domain": ["Flow 1 measured without water level sensor","Flow 1 without pumping (L = 5 m, dL = 0.5 m), 2018-11-11 - 2018-11-12","Flow 2 with pumping (Drawdown 5 m, L = 5 m, dL = 0.5 m), 2018-11-14","Flow 3 with pumping (Drawdown 5 m, L = 1 m, dL = 0.1 m), 2018-11-14 - 2018-11-16","Flow with pumping (Drawdown 2.5 m, L = 5 m, dL = 0.5 m), 2018-11-14","Flow without pumping during groundwater recovery (L = 5 m, dL = 0.5 m), 2018-11-14","Flow with pumping (Drawdown 2.5 m, L = 1 m, dL = 0.1 m), 2018-11-16","Flow without pumping during groundwater recovery (L = 1 m, dL = 0.1 m), 2018-11-16"],
    "range": ["#3d9bff","#0000ff","#ff0000","#9900cc","#ff6600","#ff9a2e","#ff00ff","#ff9ccd"]},
   "legend": {"values": ["Flow with pumping (Drawdown 2.5 m, L = 5 m, dL = 0.5 m), 2018-11-14","Flow without pumping during groundwater recovery (L = 5 m, dL = 0.5 m), 2018-11-14","Flow with pumping (Drawdown 2.5 m, L = 1 m, dL = 0.1 m), 2018-11-16","Flow without pumping during groundwater recovery (L = 1 m, dL = 0.1 m), 2018-11-16"],
    "title": "Upper part of the borehole", "titleAnchor": "middle", "titleFontSize": 17.4, "titlePadding": 2, "titleLimit": 1000,
    "orient": "none", "legendX": 84.7, "legendY": 10, "padding": 7, "fillColor": "white", "strokeColor": "black",
    "symbolType": "M-3.1,0L3.1,0", "symbolSize": 256, "symbolStrokeWidth": 2.5, "symbolOffset": 14,
    "labelOffset": 30.5, "labelFontSize": 17.4, "labelLimit": 1000, "rowPadding": 10}}}},
{"data": {"name": "note2box"}, "mark": {"type": "rect", "fill": "white", "stroke": "black", "strokeWidth": 1}, "encoding": {"x2": {"field": "v2"}, "y2": {"field": "d2"}}},
{"data": {"name": "note2text"}, "mark": {"type": "text", "align": "center", "baseline": "top", "fontSize": 12.5, "lineHeight": 13, "lineBreak": "\n", "color": "black"}, "encoding": {"text": {"field": "text"}}},
{"data": {"name": "sbar"}, "mark": {"type": "rule", "color": "black", "strokeWidth": 1.2}, "encoding": {"y2": {"field": "d2"}}},
{"data": {"name": "sbarcaps"}, "mark": {"type": "tick", "orient": "horizontal", "size": 30, "thickness": 1.2, "color": "black", "opacity": 1}},
{"data": {"name": "sbarmid"}, "transform": [{"lookup": "s", "from": {"data": {"name": "series"}, "key": "id", "fields": ["name"]}}],
 "mark": {"type": "point", "size": 324, "filled": false, "strokeWidth": 3, "color": "black", "opacity": 1},
 "encoding": {"shape": {"field": "name", "type": "nominal", "scale": {"domain": ["Location (middle of section) for fracture-specific electrical conductivity measurement"], "range": ["M-1,0L1,0M0,-1L0,1"]},
  "legend": {"title": null, "orient": "none", "legendX": 0.7, "legendY": -198, "padding": 0, "symbolSize": 324, "symbolStrokeWidth": 2.5, "symbolStrokeColor": "black", "symbolOffset": 0, "labelOffset": 47, "labelFontSize": 19.7, "labelLimit": 1000}}}},
{"data": {"name": "sbarmid"}, "mark": {"type": "text", "align": "left", "baseline": "middle", "dx": 16, "fontSize": 21, "color": "black"}, "encoding": {"text": {"field": "text"}}}
]
}
],
"config": {
 "font": "Liberation Sans",
 "view": {"stroke": null},
 "axis": {"labelColor": "black", "titleColor": "black", "titleFontWeight": "normal", "labelFont": "Liberation Sans", "titleFont": "Liberation Sans"},
 "legend": {"labelColor": "black", "titleColor": "black", "titleFontWeight": "normal", "labelFont": "Liberation Sans", "titleFont": "Liberation Sans"},
 "text": {"font": "Liberation Sans"}
}
}
